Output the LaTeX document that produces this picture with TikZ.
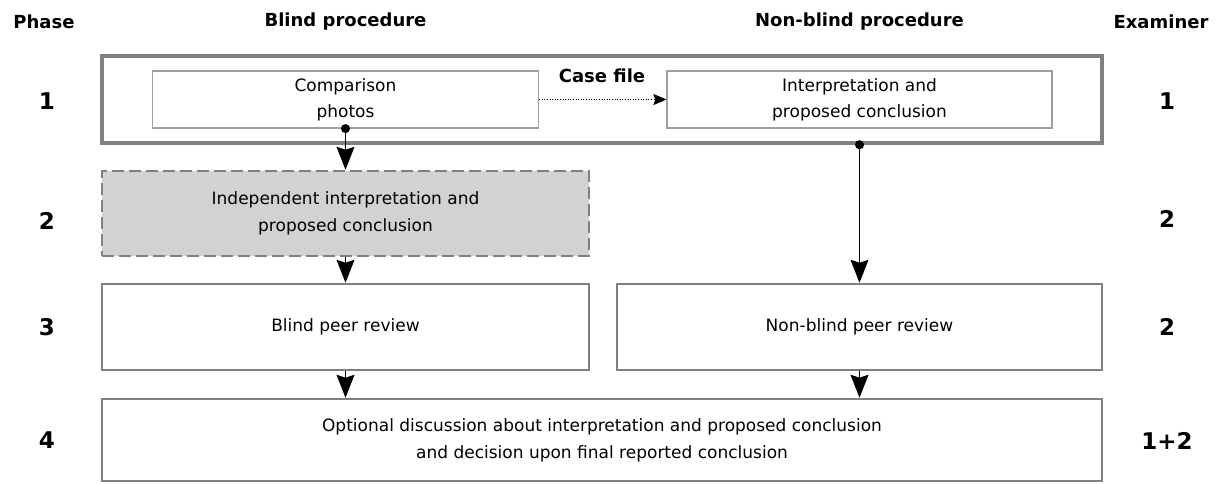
\documentclass[tikz,border=0pt]{standalone}
\usepackage{fontspec}
\setmainfont{DejaVu Sans}
\usetikzlibrary{arrows.meta}

\begin{document}
\begin{tikzpicture}[x=1pt, y=-1pt,
		box/.style={draw=gray, line width=2.5pt, inner sep=0, align=center, font=\fontsize{17}{27}\selectfont},
		inbox/.style={draw=gray!75, line width=1.2pt, inner sep=0, align=center, font=\fontsize{17}{26}\selectfont},
		head/.style={font=\bfseries\fontsize{18}{20}\selectfont},
		num/.style={font=\bfseries\fontsize{23}{26}\selectfont},
		flow/.style={-{Stealth[length=23pt, width=18pt, inset=3pt]}, line width=1.4pt},
		dotflow/.style={{Circle[length=9pt]}-{Stealth[length=23pt, width=18pt, inset=3pt]}, line width=1.4pt, shorten <=-4.5pt},
	]
		\useasboundingbox (0,0) rectangle (1228,483);
		% column heads
		\node (hphase) [head] at (44,22) {Phase};
		\node (hblind) [head] at (345.5,22) {Blind procedure};
		\node (hnonblind) [head] at (859.5,22) {Non-blind procedure};
		\node (hexam) [head] at (1161,22) {Examiner};
		% phase and examiner numbers
		\node (p1) [num] at (47,101) {1};
		\node (p2) [num] at (47,221) {2};
		\node (p3) [num] at (47,327) {3};
		\node (p4) [num] at (47,440) {4};
		\node (e1) [num] at (1167,101) {1};
		\node (e2) [num] at (1167,219) {2};
		\node (e3) [num] at (1167,327) {2};
		\node (e4) [num] at (1167,441) {1+2};
		% boxes
		\node (casefile) [box, line width=3.5pt, minimum width=1000, minimum height=87] at (602,99.5) {};
		\node (casetitle) [head] at (602,76) {Case file};
		\node (comp) [inbox, minimum width=386, minimum height=57] at (345.5,99.5) {Comparison\\photos};
		\node (interp) [inbox, minimum width=385, minimum height=57] at (859.5,99.5) {Interpretation and\\proposed conclusion};
		\node (indep) [box, dash pattern=on 12pt off 5pt, fill=gray!35, minimum width=487, minimum height=85] at (345.5,213.5) {Independent interpretation and\\proposed conclusion};
		\node (blindrev) [box, minimum width=487, minimum height=86] at (345.5,327) {Blind peer review};
		\node (nonblindrev) [box, minimum width=485, minimum height=86] at (859.5,327) {Non-blind peer review};
		\node (discuss) [box, minimum width=1000, minimum height=82] at (602,440) {Optional discussion about interpretation and proposed conclusion\\and decision upon final reported conclusion};
		% connectors
		\draw[-{Stealth[length=13pt, width=11pt, inset=2pt]}, line width=0.6pt, dotted] (comp.east) -- (interp.west);
		\draw[dotflow] (comp.south) -- (indep.north);
		\draw[dotflow] (interp.south |- casefile.south) -- (nonblindrev.north);
		\draw[flow] (indep.south) -- (blindrev.north);
		\draw[flow] (blindrev.south) -- (discuss.north -| blindrev.south);
		\draw[flow] (nonblindrev.south) -- (discuss.north -| nonblindrev.south);
	\end{tikzpicture}
\end{document}
